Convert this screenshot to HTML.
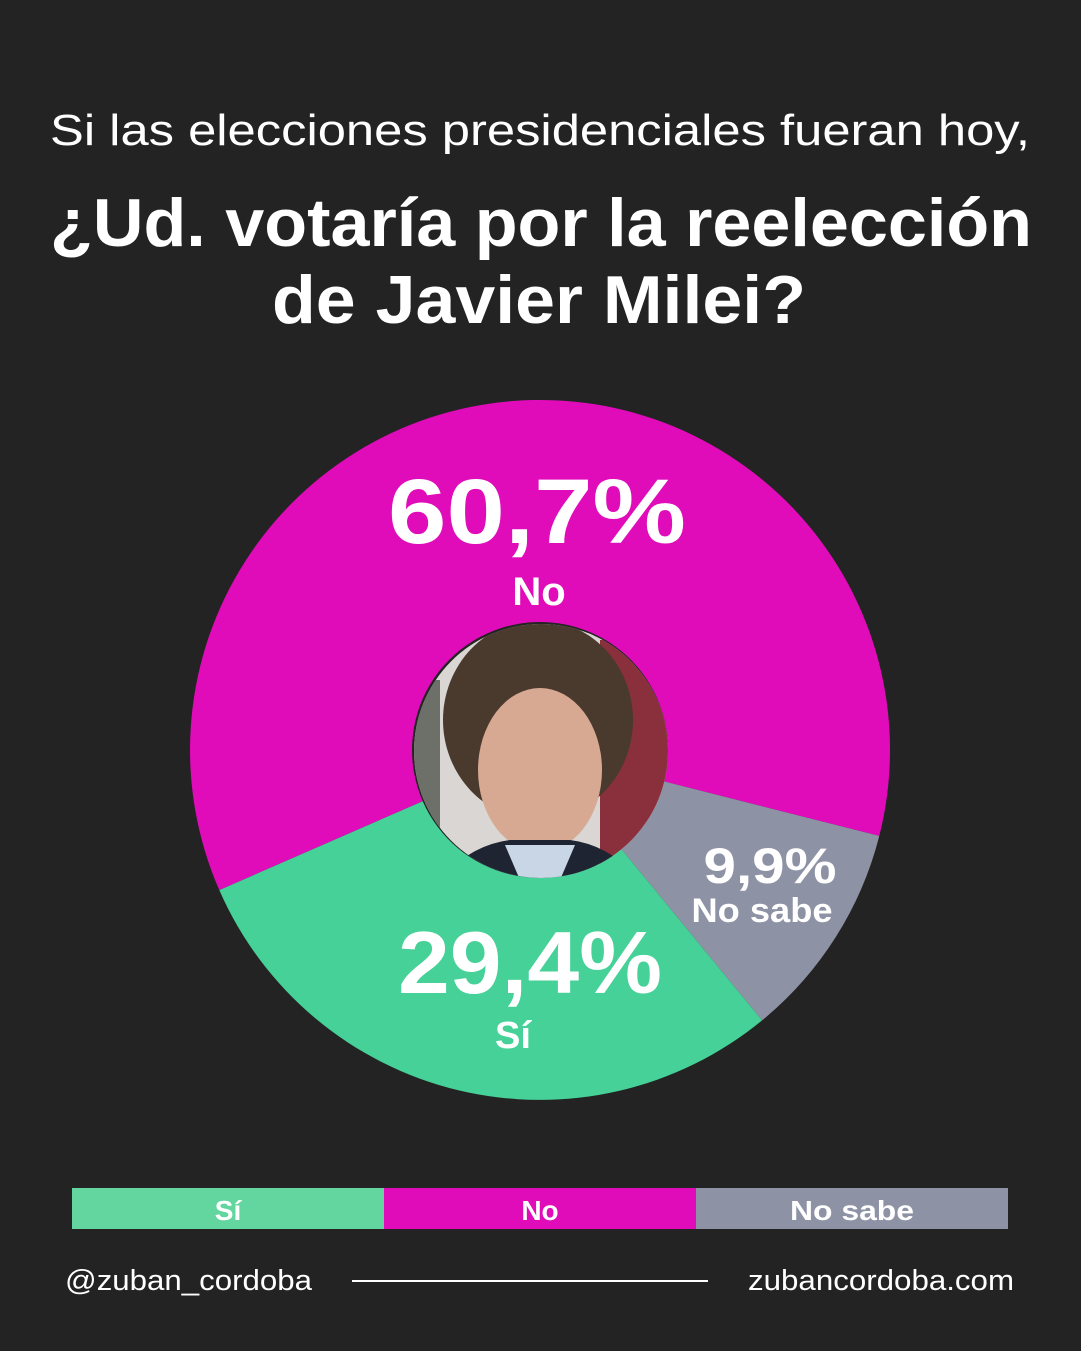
<!DOCTYPE html>
<html><head><meta charset="utf-8"><style>
html,body{margin:0;padding:0;background:#232323;}
svg{display:block;font-family:"Liberation Sans",sans-serif;}
</style></head><body>
<svg width="1081" height="1351" viewBox="0 0 1081 1351" xmlns="http://www.w3.org/2000/svg">
<rect width="1081" height="1351" fill="#232323"/>
<g fill="#fff" text-anchor="middle">
<text x="540" y="145" font-size="44" textLength="980" lengthAdjust="spacingAndGlyphs">Si las elecciones presidenciales fueran hoy,</text>
<text x="541" y="246" font-size="68" font-weight="bold" textLength="982" lengthAdjust="spacingAndGlyphs">¿Ud. votaría por la reelección</text>
<text x="539" y="323" font-size="68" font-weight="bold" textLength="534" lengthAdjust="spacingAndGlyphs">de Javier Milei?</text>
</g>
<path d="M219.3,890.1 A350,350 0 1 1 879.3,835.9 L664.1,781.4 A128,128 0 1 0 422.7,801.2 Z" fill="#e00bb9"/>
<path d="M879.3,835.9 A350,350 0 0 1 762.1,1020.4 L621.2,848.9 A128,128 0 0 0 664.1,781.4 Z" fill="#8e92a5"/>
<path d="M762.1,1020.4 A350,350 0 0 1 219.3,890.1 L422.7,801.2 A128,128 0 0 0 621.2,848.9 Z" fill="#45d197"/>
<defs><clipPath id="c"><circle cx="541" cy="751" r="127"/></clipPath></defs>
<g clip-path="url(#c)">
<rect x="410" y="620" width="260" height="265" fill="#d9d6d3"/>
<rect x="600" y="640" width="80" height="240" fill="#8a2f3c"/>
<rect x="410" y="680" width="30" height="200" fill="#6d7068"/>
<ellipse cx="538" cy="720" rx="95" ry="100" fill="#4a3a2e"/>
<ellipse cx="540" cy="770" rx="62" ry="82" fill="#d7a892"/>
<path d="M440,880 Q470,845 510,840 L570,840 Q610,845 640,880 Z" fill="#1f2433"/>
<path d="M505,845 L575,845 L560,880 L520,880 Z" fill="#c9d6e6"/>
</g>
<g fill="#fff" text-anchor="middle" font-weight="bold">
<text x="537" y="543" font-size="92" textLength="298" lengthAdjust="spacingAndGlyphs">60,7%</text>
<text x="539" y="605" font-size="40">No</text>
<text x="770" y="883" font-size="50" textLength="133" lengthAdjust="spacingAndGlyphs">9,9%</text>
<text x="762" y="922" font-size="34" textLength="141" lengthAdjust="spacingAndGlyphs">No sabe</text>
<text x="530" y="993" font-size="88" textLength="264" lengthAdjust="spacingAndGlyphs">29,4%</text>
<text x="513" y="1048" font-size="38">Sí</text>
</g>
<rect x="72" y="1188" width="312" height="41" fill="#63d69f"/>
<rect x="384" y="1188" width="312" height="41" fill="#e00bb9"/>
<rect x="696" y="1188" width="312" height="41" fill="#8e92a5"/>
<g fill="#fff" text-anchor="middle" font-weight="bold" font-size="28">
<text x="228" y="1220">Sí</text>
<text x="540" y="1220">No</text>
<text x="852" y="1220" textLength="124" lengthAdjust="spacingAndGlyphs">No sabe</text>
</g>
<g fill="#fff" font-size="29">
<text x="65" y="1290" textLength="247" lengthAdjust="spacingAndGlyphs">@zuban_cordoba</text>
<text x="748" y="1290" textLength="266" lengthAdjust="spacingAndGlyphs">zubancordoba.com</text>
</g>
<rect x="352" y="1280" width="356" height="2" fill="#fff"/>
</svg>
</body></html>
